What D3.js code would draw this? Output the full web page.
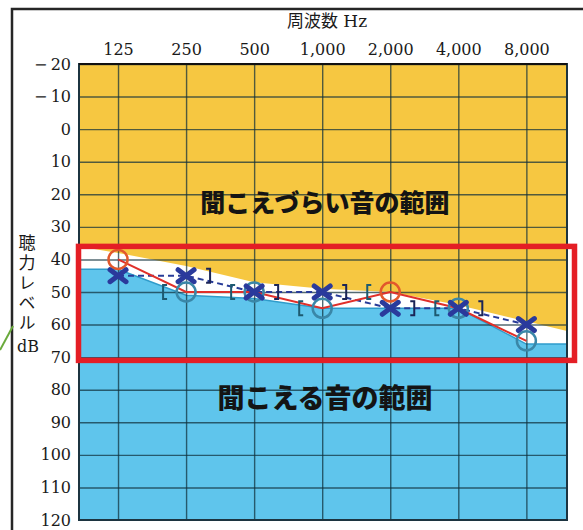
<!DOCTYPE html>
<html>
<head>
<meta charset="utf-8">
<script src="https://cdn.jsdelivr.net/npm/d3@7"></script>
<style>
  body { margin: 0; background: #fff; }
  svg { display: block; }
</style>
</head>
<body>
<div id="chart"></div>
<script>
// Frequencies (Hz) and their labels
const freqs = [125, 250, 500, 1000, 2000, 4000, 8000];
const freqLabels = ['125', '250', '500', '1,000', '2,000', '4,000', '8,000'];
// Hearing level ticks (dB)
const dbTicks = [-20, -10, 0, 10, 20, 30, 40, 50, 60, 70, 80, 90, 100, 110, 120];

// Air conduction: O (right) and X (left)
const rightAir = [40, 50, 50, 55, 50, 55, 65];
const leftAir = [45, 45, 50, 50, 55, 55, 60];
// Bone conduction: [ (right) and ] (left)
const rightBone = [null, 50, 50, 55, 50, 55, null];
const leftBone = [null, 45, 50, 50, 55, 55, null];

// Region edges, from the left plot edge, each frequency, to the right plot edge
const hardEdge = [36, 38, 42, 47, 49, 50, 54, 59, 62];
const easyEdge = [43, 43, 51, 52, 55, 55, 55, 66, 66];

// Highlight box (dB)
const boxRange = [36, 71];

const W = 583, H = 530;
const svg = d3.select('#chart')
  .append('svg')
  .attr('width', W)
  .attr('height', H);

// Scales
const x = d3.scaleLog()
  .base(2)
  .domain([84, 12100])
  .range([79, 567]);
const y = d3.scaleLinear()
  .domain([-20, 120])
  .range([64, 520]);

const x0 = x.range()[0], x1 = x.range()[1];
const y0 = y.range()[0], y1 = y.range()[1];
const edgeFreqs = [x.domain()[0], ...freqs, x.domain()[1]];

// Outer frame
svg.append('path')
  .attr('d', `M12,${H} V9 H${W}`)
  .attr('fill', 'none')
  .attr('stroke', '#262626')
  .attr('stroke-width', 2.5);

// Green pointer line at the left
svg.append('line')
  .attr('x1', 0).attr('y1', 350)
  .attr('x2', 13).attr('y2', 326)
  .attr('stroke', '#6aaa3c')
  .attr('stroke-width', 2);

// Plot background areas
svg.append('clipPath').attr('id', 'plot')
  .append('rect')
  .attr('x', x0).attr('y', y0)
  .attr('width', x1 - x0).attr('height', y1 - y0);

const plot = svg.append('g').attr('clip-path', 'url(#plot)');

plot.append('rect')
  .attr('x', x0).attr('y', y0)
  .attr('width', x1 - x0).attr('height', y1 - y0)
  .attr('fill', '#ffffff');

plot.append('path')
  .datum(hardEdge)
  .attr('fill', '#f6c741')
  .attr('d', d3.area()
    .x((d, i) => x(edgeFreqs[i]))
    .y0(y(-20))
    .y1(d => y(d)));

plot.append('path')
  .datum(easyEdge)
  .attr('fill', '#5fc5ec')
  .attr('d', d3.area()
    .x((d, i) => x(edgeFreqs[i]))
    .y0(y(120))
    .y1(d => y(d)));

plot.append('path')
  .datum(easyEdge)
  .attr('fill', 'none')
  .attr('stroke', '#2f9ccb')
  .attr('stroke-width', 1.5)
  .attr('d', d3.line()
    .x((d, i) => x(edgeFreqs[i]))
    .y(d => y(d)));

// Grid
plot.append('g')
  .attr('class', 'grid')
  .attr('transform', `translate(${x0},0)`)
  .call(d3.axisLeft(y).tickValues(dbTicks).tickSize(-(x1 - x0)).tickFormat(''))
  .call(g => g.select('.domain').remove());
plot.append('g')
  .attr('class', 'grid')
  .attr('transform', `translate(0,${y0})`)
  .call(d3.axisTop(x).tickValues(freqs).tickSize(-(y1 - y0)).tickFormat(''))
  .call(g => g.select('.domain').remove());
svg.selectAll('.grid line')
  .attr('stroke', '#10303c')
  .attr('stroke-opacity', 0.72)
  .attr('stroke-width', 1.4);

// Plot border
svg.append('rect')
  .attr('x', x0).attr('y', y0)
  .attr('width', x1 - x0).attr('height', y1 - y0)
  .attr('fill', 'none')
  .attr('stroke', '#1c3440')
  .attr('stroke-width', 2);
svg.append('line')
  .attr('x1', x0).attr('x2', x1)
  .attr('y1', y0).attr('y2', y0)
  .attr('stroke', '#111')
  .attr('stroke-width', 2.2);

// Region captions
const midX = (x0 + x1) / 2 + 2;
svg.append('text')
  .attr('x', midX).attr('y', y(22.7))
  .attr('dy', '0.36em')
  .attr('text-anchor', 'middle')
  .attr('font-family', '"Noto Sans CJK JP", sans-serif')
  .attr('font-weight', 900)
  .attr('font-size', 25)
  .attr('fill', '#141414')
  .text('聞こえづらい音の範囲');
svg.append('text')
  .attr('x', midX).attr('y', y(82.5))
  .attr('dy', '0.36em')
  .attr('text-anchor', 'middle')
  .attr('font-family', '"Noto Sans CJK JP", sans-serif')
  .attr('font-weight', 900)
  .attr('font-size', 27)
  .attr('fill', '#141414')
  .text('聞こえる音の範囲');

// Left X line (dashed) and right O line
svg.append('path')
  .datum(leftAir)
  .attr('fill', 'none')
  .attr('stroke', '#283c98')
  .attr('stroke-width', 2)
  .attr('stroke-dasharray', '6,4')
  .attr('d', d3.line().x((d, i) => x(freqs[i])).y(d => y(d)));
svg.append('path')
  .datum(rightAir)
  .attr('fill', 'none')
  .attr('stroke', '#e0302a')
  .attr('stroke-width', 2)
  .attr('d', d3.line().x((d, i) => x(freqs[i])).y(d => y(d)));

// Bone conduction brackets
const bracket = (cx, cy, dir) =>
  `M${cx + 4 * dir},${cy - 7} H${cx} V${cy + 7} H${cx + 4 * dir}`;
svg.append('g').selectAll('path')
  .data(freqs.map((f, i) => ({ f, v: rightBone[i] })).filter(d => d.v !== null))
  .enter().append('path')
  .attr('d', d => bracket(x(d.f) - 23, y(d.v), 1))
  .attr('fill', 'none')
  .attr('stroke', '#1d5a70')
  .attr('stroke-width', 2);
svg.append('g').selectAll('path')
  .data(freqs.map((f, i) => ({ f, v: leftBone[i] })).filter(d => d.v !== null))
  .enter().append('path')
  .attr('d', d => bracket(x(d.f) + 24, y(d.v), -1))
  .attr('fill', 'none')
  .attr('stroke', '#1b2557')
  .attr('stroke-width', 2);

// O markers: red above the blue region, teal where they sit on it
svg.append('g').selectAll('circle')
  .data(rightAir)
  .enter().append('circle')
  .attr('cx', (d, i) => x(freqs[i]))
  .attr('cy', d => y(d))
  .attr('r', 9.5)
  .attr('fill', 'none')
  .attr('stroke', (d, i) => d >= easyEdge[i + 1] - 2.5 ? '#3a87a8' : '#e2582c')
  .attr('stroke-width', 2.5);

// X markers
svg.append('g').selectAll('path')
  .data(leftAir)
  .enter().append('path')
  .attr('d', (d, i) => {
    const cx = x(freqs[i]), cy = y(d);
    return `M${cx - 8},${cy - 6} L${cx + 8},${cy + 6} M${cx + 8},${cy - 6} L${cx - 8},${cy + 6}`;
  })
  .attr('fill', 'none')
  .attr('stroke', '#2a3a9c')
  .attr('stroke-width', 5)
  .attr('stroke-linecap', 'round');

// Red highlight box
svg.append('rect')
  .attr('x', x0 - 0.5)
  .attr('y', y(boxRange[0]))
  .attr('width', x1 - x0 + 8)
  .attr('height', y(boxRange[1]) - y(boxRange[0]))
  .attr('fill', 'none')
  .attr('stroke', '#e41e25')
  .attr('stroke-width', 5.5);

// Frequency labels (top axis)
svg.append('g')
  .attr('transform', `translate(0,${y0 - 6})`)
  .call(d3.axisTop(x).tickValues(freqs).tickSize(0).tickFormat((d, i) => freqLabels[i]))
  .call(g => g.select('.domain').remove())
  .call(g => g.selectAll('text')
    .attr('font-family', '"DejaVu Serif", serif')
    .attr('font-size', 16)
    .attr('fill', '#1a1a1a'));

// Hearing level labels (left axis)
svg.append('g')
  .attr('transform', `translate(${x0 - 5},0)`)
  .call(d3.axisLeft(y).tickValues(dbTicks).tickSize(0)
    .tickFormat(d => d < 0 ? '\u2212\u2009' + Math.abs(d) : d))
  .call(g => g.select('.domain').remove())
  .call(g => g.selectAll('text')
    .attr('font-family', '"DejaVu Serif", serif')
    .attr('font-size', 16)
    .attr('fill', '#1a1a1a'));

// Axis titles
const title = svg.append('text')
  .attr('x', 327).attr('y', 27)
  .attr('text-anchor', 'middle')
  .attr('fill', '#1a1a1a')
  .attr('font-size', 17);
title.append('tspan')
  .attr('font-family', '"Noto Sans CJK JP", sans-serif')
  .text('周波数');
title.append('tspan')
  .attr('font-family', '"DejaVu Serif", serif')
  .text(' Hz');

// Vertical y title, one text set top to bottom
svg.append('text')
  .attr('x', 27).attr('y', 234)
  .attr('writing-mode', 'vertical-rl')
  .style('text-orientation', 'upright')
  .attr('letter-spacing', 3)
  .attr('font-family', '"Noto Sans CJK JP", sans-serif')
  .attr('font-size', 17)
  .attr('fill', '#1a1a1a')
  .text('聴力レベル');
svg.append('text')
  .attr('x', 28).attr('y', 346)
  .attr('dy', '0.36em')
  .attr('text-anchor', 'middle')
  .attr('font-family', '"DejaVu Serif", serif')
  .attr('font-size', 16)
  .attr('fill', '#1a1a1a')
  .text('dB');
</script>
</body>
</html>
